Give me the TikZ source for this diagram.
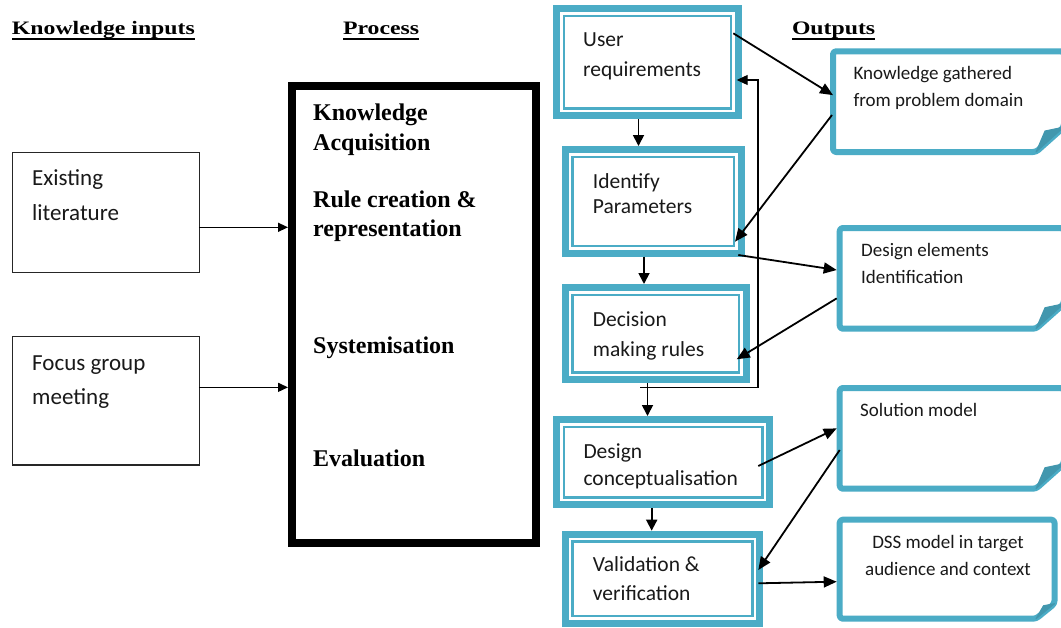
\documentclass[tikz,border=0pt]{standalone}
\usepackage{fontspec}
\setmainfont{Carlito}
\newfontfamily\serifbf{Liberation Serif}
\newfontfamily\headfont[FakeStretch=1.25]{Liberation Serif}
\usetikzlibrary{arrows.meta}
\definecolor{accent}{HTML}{4BACC6}

% two stacked lines whose reference point is the first baseline
\newcommand\lines[3]{\vtop{\baselineskip=#1pt\halign{##\hfil\cr#2\cr#3\cr}}}
\newcommand\clines[3]{\vtop{\baselineskip=#1pt\halign{\hfil##\hfil\cr#2\cr#3\cr}}}

\tikzset{
  head/.style={anchor=base west, inner sep=0pt, outer sep=0pt, text depth=4.5pt,
    font=\headfont\bfseries\fontsize{19}{23}\selectfont},
  ptext/.style={anchor=base west, inner sep=0pt,
    font=\serifbf\bfseries\fontsize{24}{30}\selectfont},
  btext/.style={anchor=base west, inner sep=0pt, text=black!90,
    font=\fontsize{23}{28}\selectfont},
  stext/.style={anchor=base west, inner sep=0pt, text=black!90,
    font=\fontsize{21.5}{26}\selectfont},
  otext/.style={anchor=base west, inner sep=0pt, text=black!90,
    font=\fontsize{19}{24}\selectfont},
  src/.style={draw=black!85, line width=1.2pt, inner sep=0pt, outer sep=0pt,
    minimum width=186.6pt},
  procbox/.style={draw=black, line width=8pt, inner sep=0pt, outer sep=0pt},
  stage/.style={draw=accent, line width=7pt, fill=white, inner sep=0pt, outer sep=0pt,
    path picture={\draw[accent, line width=2.4pt]
      ([shift={(7.3,7.3)}]path picture bounding box.north west) rectangle
      ([shift={(-7.3,-7.3)}]path picture bounding box.south east);}},
  obox/.style={inner sep=0pt, outer sep=0pt},
  outline/.style={draw=accent, fill=white, line width=6pt, rounded corners=3pt, line join=round},
  flap/.style={fill=accent!88!black, draw=accent!88!black, line width=1pt, line join=round},
  link/.style={line width=1.8pt, -{Triangle[length=13pt,width=11pt]}},
  down/.style={line width=1.8pt, -{Triangle[length=11pt,width=11pt]}},
  feed/.style={line width=1.1pt, -{Triangle[length=11pt,width=10pt]}},
  inarr/.style={line width=1.4pt, -{Triangle[length=10pt,width=9pt]}},
}

\begin{document}
\begin{tikzpicture}[x=1pt, y=-1pt]
\path[use as bounding box, clip] (0,0) rectangle (1061,627);
\fill[white] (0,0) rectangle (1061,627);

% column headings
\node[head] (hin)  at (12,34)  {Knowledge inputs};
\node[head] (hpro) at (343,34) {Process};
\node[head] (hout) at (792,34) {Outputs};
\foreach \h in {hin,hpro,hout}
  \draw[line width=2pt] (\h.south west) -- (\h.south east);

% knowledge inputs
\node[src, minimum height=120.4pt] (lit) at (106,212.5) {};
\node[src, minimum height=128.3pt] (fgm) at (106,400.85) {};
\node[btext] (litT) at (32,185) {\lines{35}{Existing}{literature}};
\node[btext] (fgmT) at (32,370) {\lines{34}{Focus group}{meeting}};

% process
\node[procbox, minimum width=243.5pt, minimum height=456.5pt] (proc) at (413.75,314.25) {};
\node[ptext] (p1) at (313,120)   {\lines{30}{Knowledge}{Acquisition}};
\node[ptext] (p2) at (313,207.3) {\lines{29.4}{Rule creation \&}{representation}};
\node[ptext] (p3) at (313,353.3) {Systemisation};
\node[ptext] (p4) at (313,466.7) {Evaluation};

\draw[inarr] ([shift={(0,14.8)}]lit.east) -- ([shift={(-4,-86.95)}]proc.west);
\draw[inarr] ([shift={(0,-13.5)}]fgm.east) -- ([shift={(-4,73.1)}]proc.west);

% development stages
\node[stage, minimum width=181.4pt, minimum height=107.3pt] (ur) at (647.5,62.15)  {};
\node[stage, minimum width=176.3pt, minimum height=103.7pt] (ip) at (653.35,201.35) {};
\node[stage, minimum width=181.3pt, minimum height=92.3pt]  (dm) at (655.85,333.65) {};
\node[stage, minimum width=213pt,   minimum height=85.3pt]  (dc) at (663.3,462.15)  {};
\node[stage, minimum width=194.6pt, minimum height=89pt]    (vv) at (662.5,578.7)   {};

\node[stext] (urT) at (583,46.7)    {\lines{29.3}{User}{requirements}};
\node[stext] (ipT) at (592.7,188.3) {\lines{25}{Identify}{Parameters}};
\node[stext] (dmT) at (592.7,326)   {\lines{30.7}{Decision}{making rules}};
\node[stext] (dcT) at (583.3,458.3) {\lines{26.7}{Design}{conceptualisation}};
\node[stext] (vvT) at (592.7,571.7) {\lines{28.3}{Validation \&}{verification}};

% outputs: folded-corner notes
\node[obox, minimum width=231pt,   minimum height=100.7pt] (kg) at (948.5,101.65)  {};
\node[obox, minimum width=224.3pt, minimum height=100.7pt] (de) at (951.85,278.35) {};
\node[obox, minimum width=224.3pt, minimum height=100.7pt] (sm) at (951.85,438.35) {};
\node[obox, minimum width=214.8pt, minimum height=99pt]    (ds) at (947.1,569.2)   {};
% fold: horizontal cut, vertical cut, flap tip offsets
\foreach \n/\fx/\fy/\vx/\vy in {kg/28/25/19/21, de/28/25/19/21, sm/28/25/19/21, ds/18.5/15/11/13}{
  \draw[outline] (\n.north west) -- (\n.north east) -- ([shift={(0,-\fy)}]\n.south east)
    -- ([shift={(-\fx,0)}]\n.south east) -- (\n.south west) -- cycle;
  \filldraw[flap] ([shift={(-\fx,0)}]\n.south east) -- ([shift={(-\vx,-\vy)}]\n.south east)
    -- ([shift={(0,-\fy)}]\n.south east) -- cycle;
}
\node[otext] (kgT) at (853.3,79.3) {\lines{27.4}{Knowledge gathered}{from problem domain}};
\node[otext] (deT) at (861,256.7)  {\lines{26.6}{Design elements}{Identification}};
\node[otext] (smT) at (860,416.7)  {Solution model};
\node[otext, anchor=base] (dsT) at (948,548.3) {\clines{26.7}{DSS model in target}{audience and context}};

% stage sequence
\draw[down] ([shift={(-9,3.5)}]ur.south)     -- ([shift={(-14.85,-3.5)}]ip.north);
\draw[down] ([shift={(-9.35,3.5)}]ip.south)  -- ([shift={(-11.85,-3.5)}]dm.north);
\draw[down] ([shift={(-8.35,3.5)}]dm.south)  -- ([shift={(-15.8,-3.5)}]dc.north);
\draw[down] ([shift={(-11.6,3.5)}]dc.south)  -- ([shift={(-10.8,-3.5)}]vv.north);

% feedback loop back to the requirements
\draw[feed] ([shift={(-15.85,7.9)}]dm.south) -| ([shift={(19.8,17.85)}]ur.east)
  -- ([shift={(-1.5,17.85)}]ur.east);

% stage / output exchanges
\draw[link] ([shift={(-4.9,24.8)}]ur.north east) -- ([shift={(0,-6.5)}]kg.west);
\draw[link] ([shift={(-1,13.35)}]kg.west)        -- ([shift={(-6.5,40.35)}]ip.east);
\draw[link] ([shift={(-3.2,1.8)}]ip.south east)  -- ([shift={(-3,-8.35)}]de.west);
\draw[link] ([shift={(-3,20)}]de.west)           -- ([shift={(-9.8,25.65)}]dm.east);
\draw[link] ([shift={(-11.5,3.85)}]dc.east)      -- ([shift={(-3,-10)}]sm.west);
\draw[link] ([shift={(0,11.65)}]sm.west)         -- ([shift={(-1.5,-8.7)}]vv.east);
\draw[link] ([shift={(-1.5,4.6)}]vv.east)        -- ([shift={(-3,12.5)}]ds.west);
\end{tikzpicture}
\end{document}
